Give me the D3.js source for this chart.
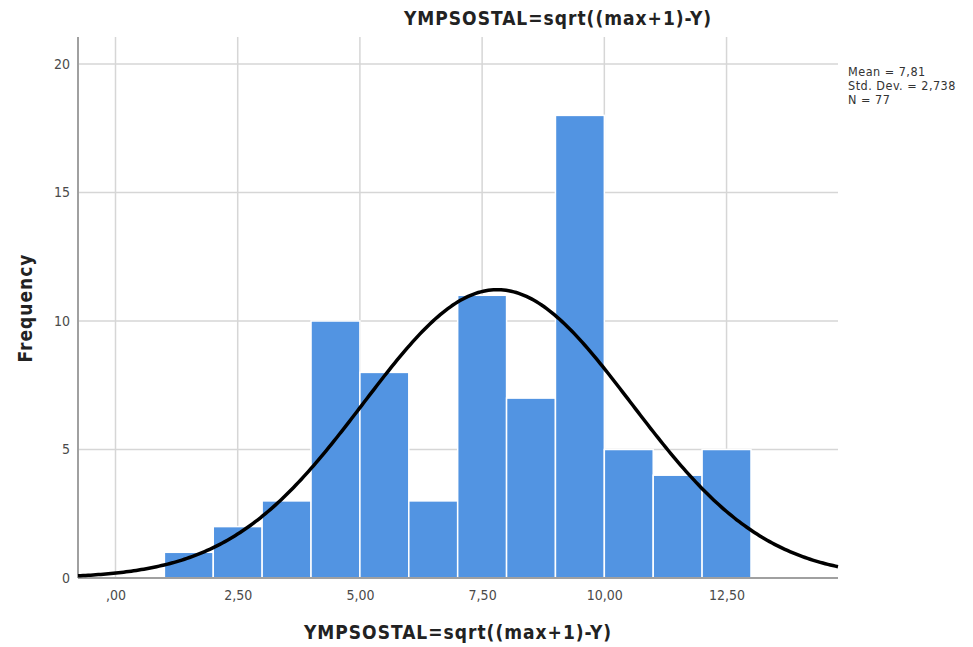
<!DOCTYPE html>
<html>
<head>
<meta charset="utf-8">
<script src="https://cdn.jsdelivr.net/npm/d3@7"></script>
<style>
  body { margin: 0; background: #fff; }
  text { font-family: "Liberation Sans Narrow", "DejaVu Sans Condensed", "Liberation Sans", sans-serif; }
</style>
</head>
<body>
<svg id="chart" width="973" height="647"></svg>
<script>
// histogram bins (lower edges), bin width 1
var binStarts = [1, 2, 3, 4, 5, 6, 7, 8, 9, 10, 11, 12];
var counts = [1, 2, 3, 10, 8, 3, 11, 7, 18, 5, 4, 5];
var binWidth = 1;

// summary statistics shown in the legend
var mean = 7.81;
var stdDev = 2.738;
var n = 77;

var xTicks = [0, 2.5, 5, 7.5, 10, 12.5];
var yTicks = [0, 5, 10, 15, 20];
var titleText = "YMPSOSTAL=sqrt((max+1)-Y)";
var xLabel = "YMPSOSTAL=sqrt((max+1)-Y)";
var yLabel = "Frequency";
var statLines = ["Mean = 7,81", "Std. Dev. = 2,738", "N = 77"];

var svg = d3.select("#chart");
var pLeft = 78, pRight = 838, pTop = 37, pBottom = 578;

var xScale = d3.scaleLinear().domain([-0.767, 14.78]).range([pLeft, pRight]);
var yScale = d3.scaleLinear().domain([0, 21.05]).range([pBottom, pTop]);

var fmt = v => (v === 0 ? ",00" : d3.format(".2f")(v).replace(".", ","));

// grid lines
var grid = svg.append("g");
grid.selectAll(".gx").data(xTicks).enter().append("line")
  .attr("x1", d => xScale(d)).attr("x2", d => xScale(d))
  .attr("y1", pTop).attr("y2", pBottom)
  .attr("stroke", "#d6d6d6").attr("stroke-width", 1.5);
grid.selectAll(".gy").data(yTicks.filter(d => d > 0)).enter().append("line")
  .attr("x1", pLeft).attr("x2", pRight)
  .attr("y1", d => yScale(d)).attr("y2", d => yScale(d))
  .attr("stroke", "#d6d6d6").attr("stroke-width", 1.5);

// bars
svg.append("g").selectAll("rect").data(binStarts).enter().append("rect")
  .attr("x", d => xScale(d))
  .attr("y", (d, i) => yScale(counts[i]))
  .attr("width", d => xScale(d + binWidth) - xScale(d))
  .attr("height", (d, i) => yScale(0) - yScale(counts[i]))
  .attr("fill", "#5294e2")
  .attr("stroke", "#ffffff")
  .attr("stroke-width", 1.5);

// axes
var xAxis = svg.append("g").attr("transform", `translate(0, ${pBottom})`)
  .call(d3.axisBottom(xScale).tickValues(xTicks).tickFormat(fmt).tickSize(0).tickPadding(12));
var yAxis = svg.append("g").attr("transform", `translate(${pLeft}, 0)`)
  .call(d3.axisLeft(yScale).tickValues(yTicks).tickFormat(d3.format("d")).tickSize(0).tickPadding(8));
[xAxis, yAxis].forEach(a => {
  a.select(".domain").attr("stroke", "#a0a0a0").attr("stroke-width", 2);
  a.selectAll("text").attr("font-size", 14).attr("fill", "#4a4a4a").attr("font-family", null);
});
yAxis.select(".domain").attr("d", `M0,${pTop}V${pBottom}`);
xAxis.select(".domain").attr("d", `M${pLeft},0H${pRight}`);

// normal curve fitted from mean / sd / n
var xs = d3.range(0, 301).map(i => xScale.domain()[0] + (xScale.domain()[1] - xScale.domain()[0]) * i / 300);
var dens = x => n * binWidth / (stdDev * Math.sqrt(2 * Math.PI)) * Math.exp(-0.5 * Math.pow((x - mean) / stdDev, 2));
svg.append("path")
  .datum(xs)
  .attr("d", d3.line().x(d => xScale(d)).y(d => yScale(dens(d))))
  .attr("fill", "none")
  .attr("stroke", "#000")
  .attr("stroke-width", 3.5);

// titles
svg.append("text").attr("x", 558).attr("y", 25).attr("text-anchor", "middle")
  .attr("font-size", 19).attr("font-weight", "bold").attr("letter-spacing", 1)
  .attr("fill", "#222").text(titleText);
svg.append("text").attr("x", 458).attr("y", 639).attr("text-anchor", "middle")
  .attr("font-size", 19).attr("font-weight", "bold").attr("letter-spacing", 1)
  .attr("fill", "#222").text(xLabel);
svg.append("text").attr("transform", "translate(32, 308) rotate(-90)").attr("text-anchor", "middle")
  .attr("font-size", 19).attr("font-weight", "bold").attr("letter-spacing", 1)
  .attr("fill", "#222").text(yLabel);

// stats legend
svg.append("g").selectAll("text").data(statLines).enter().append("text")
  .attr("x", 848).attr("y", (d, i) => 76 + i * 14)
  .attr("font-size", 12.5).attr("letter-spacing", 0.5)
  .attr("fill", "#333").text(d => d);
</script>
</body>
</html>
